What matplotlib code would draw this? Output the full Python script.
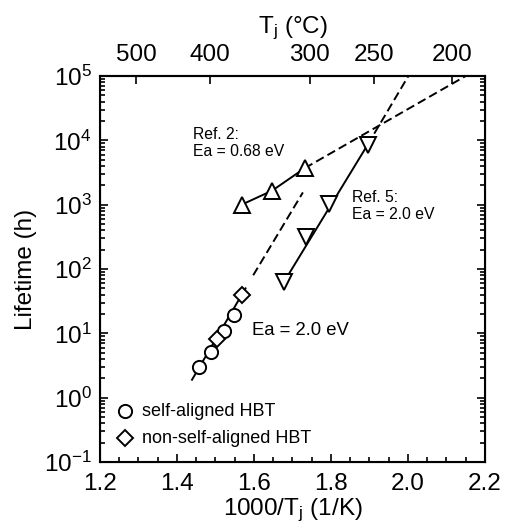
import numpy as np
import matplotlib
matplotlib.use("Agg")
import matplotlib.pyplot as plt
from matplotlib.ticker import LogLocator, MultipleLocator, NullFormatter

plt.rcParams['font.family'] = ['Liberation Sans', 'DejaVu Sans']
plt.rcParams['mathtext.fontset'] = 'custom'
plt.rcParams['mathtext.rm'] = 'Liberation Sans'
plt.rcParams['mathtext.it'] = 'Liberation Sans'

# self-aligned HBT (circles) and non-self-aligned HBT (diamonds)
sa_x = [1.458, 1.488, 1.522, 1.548]
sa_life = [3.0, 5.2, 11.0, 19.0]
nsa_x = [1.505, 1.568]
nsa_life = [8.3, 40.0]
# Ea = 2.0 eV fit through the HBT data
hbt_solid_x = [1.439, 1.578]
hbt_solid_life = [1.9, 50.0]
hbt_dash_x = [1.598, 1.727]
hbt_dash_life = [80.0, 1550.0]

# Ref. 2 (up triangles), Ea = 0.68 eV
ref2_x = [1.568, 1.647, 1.732]
ref2_life = [1000.0, 1650.0, 3700.0]
ref2_dash_x = [1.732, 2.150]
ref2_dash_life = [3700.0, 1.0e5]

# Ref. 5 (down triangles), Ea = 2.0 eV
ref5_x = [1.678, 1.735, 1.795, 1.895]
ref5_life = [63.0, 316.0, 1020.0, 8500.0]
ref5_dash_x = [1.895, 2.001]
ref5_dash_life = [8500.0, 1.0e5]

# junction temperature ticks for the top axis
tj_ticks = [500, 400, 300, 250, 200]

fig = plt.figure(figsize=(5.06, 5.31), dpi=100)
ax = fig.add_axes([0.1976, 0.1299, 0.7609, 0.7270])

lw = 1.4
mew = 1.4
dash = (0, (4.5, 2.2))

ax.plot(hbt_solid_x, hbt_solid_life, color='black', lw=lw)
ax.plot(hbt_dash_x, hbt_dash_life, color='black', lw=lw, linestyle=dash)
ax.plot(ref2_x, ref2_life, color='black', lw=lw)
ax.plot(ref2_dash_x, ref2_dash_life, color='black', lw=lw, linestyle=dash)
ax.plot([ref5_x[0], ref5_x[-1]], [ref5_life[0], ref5_life[-1]], color='black', lw=lw)
ax.plot(ref5_dash_x, ref5_dash_life, color='black', lw=lw, linestyle=dash)

ax.plot(sa_x, sa_life, 'o', ms=9.5, mfc='white', mec='black', mew=mew)
ax.plot(nsa_x, nsa_life, 'D', ms=8, mfc='white', mec='black', mew=mew)
ax.plot(ref2_x, ref2_life, '^', ms=11, mfc='white', mec='black', mew=mew)
ax.plot(ref5_x, ref5_life, 'v', ms=11, mfc='white', mec='black', mew=mew)

ax.set_xlim(1.2, 2.2)
ax.set_yscale('log')
ax.set_ylim(0.1, 1e5)

ax.xaxis.set_major_locator(MultipleLocator(0.2))
ax.xaxis.set_minor_locator(MultipleLocator(0.05))
ax.xaxis.set_major_formatter(plt.FormatStrFormatter('%.1f'))
ax.yaxis.set_major_locator(LogLocator(base=10, numticks=10))
ax.yaxis.set_minor_locator(LogLocator(base=10, subs=np.arange(2, 10), numticks=20))
ax.yaxis.set_minor_formatter(NullFormatter())

ax.tick_params(which='both', direction='in', right=True, top=False, width=1.2)
ax.tick_params(which='major', length=6, labelsize=17.5)
ax.tick_params(which='minor', length=3.5)
ax.tick_params(axis='x', which='major', pad=8)
ax.tick_params(axis='y', which='major', pad=6)
for sp in ax.spines.values():
    sp.set_linewidth(1.5)

ax.set_xlabel('1000/T$_\\mathrm{j}$ (1/K)', fontsize=17.5, labelpad=1)
ax.set_ylabel('Lifetime (h)', fontsize=17.5, labelpad=5)

# top axis in degrees Celsius
top = ax.twiny()
top.set_xlim(ax.get_xlim())
top.set_xticks([1000.0 / (t + 273.15) for t in tj_ticks])
top.set_xticklabels([str(t) for t in tj_ticks])
top.tick_params(direction='in', length=6, width=1.2, labelsize=17.5, pad=7)
top.spines['top'].set_linewidth(1.5)
top.set_xlabel('T$_\\mathrm{j}$ (\u00b0C)', fontsize=17.5, labelpad=8)

# annotations
ax.text(1.442, 16000, 'Ref. 2:\nEa = 0.68 eV', fontsize=11.3, va='top', linespacing=1.15)
ax.text(1.854, 1700, 'Ref. 5:\nEa = 2.0 eV', fontsize=11.3, va='top', linespacing=1.15)
ax.text(1.595, 11.2, 'Ea = 2.0 eV', fontsize=13.3, va='center')

# legend
ax.plot([1.266], [0.62], 'o', ms=9.5, mfc='white', mec='black', mew=mew)
ax.text(1.31, 0.62, 'self-aligned HBT', fontsize=13, va='center')
ax.plot([1.266], [0.234], 'D', ms=8, mfc='white', mec='black', mew=mew)
ax.text(1.31, 0.234, 'non-self-aligned HBT', fontsize=13, va='center')

fig.savefig('out.png', dpi=100)
